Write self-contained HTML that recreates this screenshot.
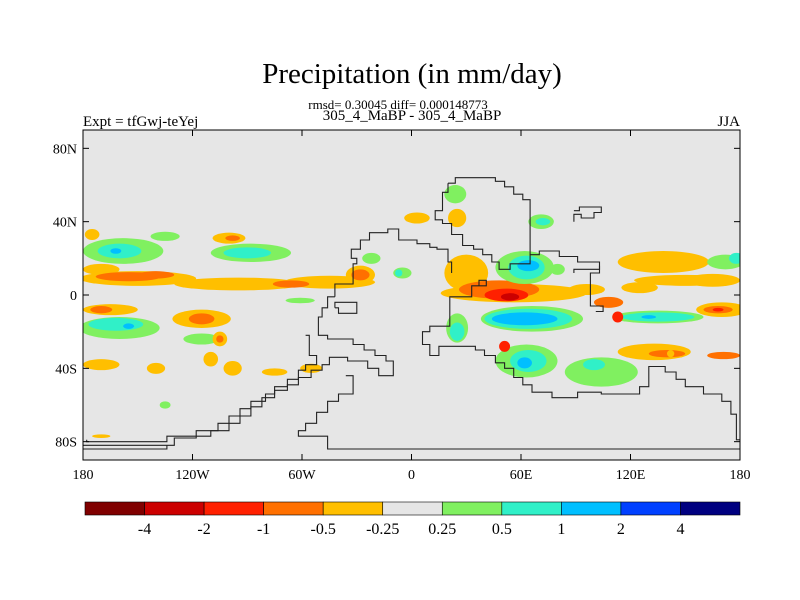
<!DOCTYPE html>
<html><head><meta charset="utf-8"><style>
body{margin:0;background:#fff;}
svg{display:block;font-family:"Liberation Serif",serif;}
</style></head><body>
<svg id="chart" width="800" height="600">
<text x="412" y="83" font-size="29" text-anchor="middle">Precipitation (in mm/day)</text>
<text x="398" y="109" font-size="13" text-anchor="middle">rmsd= 0.30045 diff= 0.000148773</text>
<text x="412" y="120" font-size="15" text-anchor="middle">305_4_MaBP - 305_4_MaBP</text>
<text x="83" y="126" font-size="15">Expt = tfGwj-teYej</text>
<text x="740" y="126" font-size="15" text-anchor="end">JJA</text>
<defs><clipPath id="pc"><rect x="83" y="130" width="657" height="330"/></clipPath></defs>
<rect x="83" y="130" width="657" height="330" fill="#e6e6e6"/>
<g id="blobs" clip-path="url(#pc)"></g>
<g id="coast" clip-path="url(#pc)"></g>
<rect x="83" y="130" width="657" height="330" fill="none" stroke="#000" stroke-width="1"/>
<g id="axes"></g>
<g id="cbar"></g>
</svg>
<script>
const levels=["#800000","#cc0000","#ff2000","#ff7000","#ffbf00","#e6e6e6","#80f060","#30f0c8","#00bfff","#0040ff","#000080"];
const cbarLabels=["-4","-2","-1","-0.5","-0.25","0.25","0.5","1","2","4"];
const xTicks=[-180,-120,-60,0,60,120,180];
const xTickLabels=["180","120W","60W","0","60E","120E","180"];
const yTicks=[80,40,0,-40,-80];
const yTickLabels=["80N","40N","0","40S","80S"];
// blobs: lon, lat, half-width lon, half-height lat, level index
const blobLon=[-150,-95,-45,-28,-170,-155,-140,-66,-28,-158,-160,-162,-88,-90,-100,-98,-175,-135,-165,-170,-160,-162,-155,-115,-115,-115,-105,-105,-170,-140,-98,-110,-135,-75,-170,-55,
 56,30,48,52,54,
 138,165,150,125,
 66,64,62,25,25,
 62,63,64,
 135,135,130,
 63,64,62,104,100,
 133,140,171,170,168,168,
 172,178,80,96,71,72,3,25,24,-61,-22,-5,-7,51,108,113,142];
const blobLat=[9,6,7,11,14,10,11,6,11,24,24,24,23,23,31,31,33,32,-8,-8,-18,-16,-17,-13,-13,-24,-24,-24,-38,-40,-40,-35,-60,-42,-77,-40,
 1,12,3,0,-1,
 18,8,8,4,
 -13,-13,-13,-18,-20,
 15,15,16,
 -12,-12,-12,
 -36,-36,-37,-42,-38,
 -31,-32,-33,-8,-8,-8,
 18,20,14,3,40,40,42,42,55,-3,20,12,12,-28,-4,-12,-32];
const blobRx=[32,35,25,8,10,18,10,10,5,22,12,3,22,13,9,4,4,8,15,6,22,15,3,16,7,10,4,2,10,5,5,4,3,7,5,6,
 40,12,22,12,5,
 25,15,28,10,
 28,24,18,6,4,
 16,10,6,
 25,20,4,
 17,10,4,20,6,
 20,10,9,14,8,3,
 10,4,4,10,7,4,7,5,6,8,5,5,2,3,8,3,2];
const blobRy=[4,3.5,3.5,5,3,2.5,2,2,3,7,4,1.5,5,3,3,1.5,3,2.5,3,2,6,3.5,1.5,5,3,3,4,2,3,3,4,4,2,2,1,2.5,
 5,10,5,3.5,2,
 6,3.5,3,3,
 7,5.5,3.5,8,5,
 9,6.5,3,
 3.5,2.5,1,
 9,6,3,8,3,
 4.5,2,2,4,2,1,
 4,3,3,3,4,2,3,5,5,1.5,3,3,2,3,3,3,2];
const blobLevel=[4,4,4,4,4,3,3,3,3,6,7,8,6,7,4,3,4,6,4,3,6,7,8,4,3,6,4,3,4,4,4,4,6,4,4,4,
 4,4,3,2,1,
 4,4,4,4,
 6,7,8,6,7,
 6,7,8,
 6,7,8,
 6,7,8,6,7,
 4,3,3,4,3,2,
 6,7,6,4,6,7,4,4,6,6,6,6,7,2,3,2,4];
// coastline polylines as [lon,lat] pairs
const coastLines=[
 [[20,61],[20,56],[17,56],[17,46],[13,46],[13,41],[17,41],[17,39],[22,39],[22,33],[28,33],[28,27],[34,27],[34,25],[39,25],[39,22],[44,22],[44,18],[48,18],[48,14],[54,14],[54,17],[65,17],[65,22],[70,22],[70,24],[81,24],[81,21],[91,21],[91,18],[103,18],[103,14],[89,14],[89,12]],
 [[20,61],[24,61],[24,64],[46,64],[46,62],[51,62],[51,59],[56,59],[56,55],[61,55],[61,52],[65,52],[65,22]],
 [[37,5],[41,5],[41,8],[37,8],[37,5],[33,5],[33,-1],[21,-1],[21,-17],[10,-17],[10,-20],[6,-20],[6,-27],[10,-27],[10,-33],[15,-33],[15,-28],[35,-28],[35,-30],[40,-30],[40,-33],[46,-33],[46,-37],[51,-37],[51,-40],[56,-40],[56,-45],[61,-45],[61,-49],[66,-49],[66,-53],[77,-53],[77,-56],[91,-56],[91,-53],[104,-53],[104,-54],[125,-54],[125,-50],[130,-50],[130,-39],[139,-39],[139,-42],[145,-42],[145,-46],[150,-46],[150,-50],[160,-50],[160,-54],[170,-54],[170,-58],[175,-58],[175,-65],[178,-65],[178,-79],[180,-79]],
 [[-42,-1],[-42,6],[-32,6],[-32,17],[-30,17],[-30,20],[-33,20],[-33,25],[-28,25],[-28,30],[-23,30],[-23,34],[-13,34],[-13,36],[-7,36],[-7,30],[3,30],[3,28],[10,28],[10,26],[14,26],[14,25],[20,25],[20,18],[22,18],[22,12]],
 [[-42,-1],[-46,-1],[-46,-7],[-49,-7],[-49,-12],[-51,-12],[-51,-22],[-46,-22],[-46,-24],[-32,-24],[-32,-27],[-26,-27],[-26,-30],[-20,-30],[-20,-33],[-14,-33],[-14,-36],[-10,-36],[-10,-44],[-18,-44],[-18,-40],[-24,-40],[-24,-36],[-35,-36],[-35,-34],[-45,-34],[-45,-38],[-49,-38],[-49,-41],[-55,-41],[-55,-45],[-62,-45],[-62,-49],[-68,-49],[-68,-52],[-75,-52],[-75,-56],[-82,-56],[-82,-61],[-88,-61],[-88,-66],[-94,-66],[-94,-70],[-100,-70],[-100,-74],[-110,-74],[-110,-77],[-134,-77],[-134,-80],[-178,-80],[-178,-79]],
 [[-58,-22],[-56,-22],[-56,-33],[-52,-33],[-52,-38],[-58,-38],[-58,-41],[-62,-41],[-62,-46],[-68,-46],[-68,-50],[-75,-50],[-75,-54],[-80,-54],[-80,-58],[-88,-58],[-88,-62],[-94,-62],[-94,-66],[-100,-66],[-100,-70],[-106,-70],[-106,-74],[-118,-74],[-118,-78],[-130,-78],[-130,-82],[-180,-82]],
 [[-36,-44],[-32,-44],[-32,-54],[-40,-54],[-40,-58],[-46,-58],[-46,-64],[-52,-64],[-52,-70],[-58,-70],[-58,-74],[-62,-74],[-62,-77],[-46,-77],[-46,-84],[180,-84]],
 [[-42,-7],[-42,-4],[-30,-4],[-30,-10],[-40,-10],[-40,-7],[-42,-7]],
 [[-180,-84],[-134,-84],[-134,-82]],
 [[103,16],[103,12],[98,12],[98,-6],[105,-6],[105,-9],[101,-9]],
 [[89,40],[89,44],[93,44],[93,42],[100,42],[100,45],[104,45],[104,48],[92,48],[92,46],[89,46]]
];
const X0=83,W=657,Y0=130,H=330;
function xs(lon){return X0+(lon+180)/360*W;}
function ys(lat){return Y0+(90-lat)/180*H;}
const NS="http://www.w3.org/2000/svg";
const bg=document.getElementById('blobs');
for(let i=0;i<blobLon.length;i++){
 const e=document.createElementNS(NS,'ellipse');
 
 
 e.setAttribute('cx',xs(blobLon[i]));e.setAttribute('cy',ys(blobLat[i]));
 e.setAttribute('rx',blobRx[i]/360*W);e.setAttribute('ry',blobRy[i]/180*H);
 e.setAttribute('fill',levels[blobLevel[i]]);
 bg.appendChild(e);
}
const cg=document.getElementById('coast');
coastLines.forEach((ln,i)=>{
 const p=document.createElementNS(NS,'polyline');
 
 
 p.setAttribute('points',ln.map(q=>xs(q[0]).toFixed(1)+','+ys(q[1]).toFixed(1)).join(' '));
 p.setAttribute('fill','none');p.setAttribute('stroke','#222');p.setAttribute('stroke-width','1.1');
 cg.appendChild(p);
});
const ag=document.getElementById('axes');
xTicks.forEach((v,i)=>{
 const t=document.createElementNS(NS,'text');
 
 
 t.setAttribute('x',xs(v));t.setAttribute('y',479);t.setAttribute('font-size','14');t.setAttribute('text-anchor','middle');
 t.textContent=xTickLabels[i];ag.appendChild(t);
 for(const yy of [[460,454],[130,136]]){
  const l=document.createElementNS(NS,'line');
  
  
  l.setAttribute('x1',xs(v));l.setAttribute('x2',xs(v));l.setAttribute('y1',yy[0]);l.setAttribute('y2',yy[1]);l.setAttribute('stroke','#000');ag.appendChild(l);
 }
});
yTicks.forEach((v,i)=>{
 const t=document.createElementNS(NS,'text');
 
 
 t.setAttribute('x',77);t.setAttribute('y',ys(v)+5);t.setAttribute('font-size','14');t.setAttribute('text-anchor','end');
 t.textContent=yTickLabels[i];ag.appendChild(t);
 for(const xx of [[83,89],[740,734]]){
  const l=document.createElementNS(NS,'line');
  
  
  l.setAttribute('x1',xx[0]);l.setAttribute('x2',xx[1]);l.setAttribute('y1',ys(v));l.setAttribute('y2',ys(v));l.setAttribute('stroke','#000');ag.appendChild(l);
 }
});
const cb=document.getElementById('cbar');
const bw=(740-85)/levels.length;
levels.forEach((c,i)=>{
 const r=document.createElementNS(NS,'rect');
 
 
 r.setAttribute('x',85+i*bw);r.setAttribute('y',502);r.setAttribute('width',bw);r.setAttribute('height',13);
 r.setAttribute('fill',c);r.setAttribute('stroke','#000');r.setAttribute('stroke-width','0.6');cb.appendChild(r);
});
cbarLabels.forEach((s,i)=>{
 const t=document.createElementNS(NS,'text');
 
 
 t.setAttribute('x',85+(i+1)*bw);t.setAttribute('y',534);t.setAttribute('font-size','16');t.setAttribute('text-anchor','middle');
 t.textContent=s;cb.appendChild(t);
});
</script>
</body></html>
